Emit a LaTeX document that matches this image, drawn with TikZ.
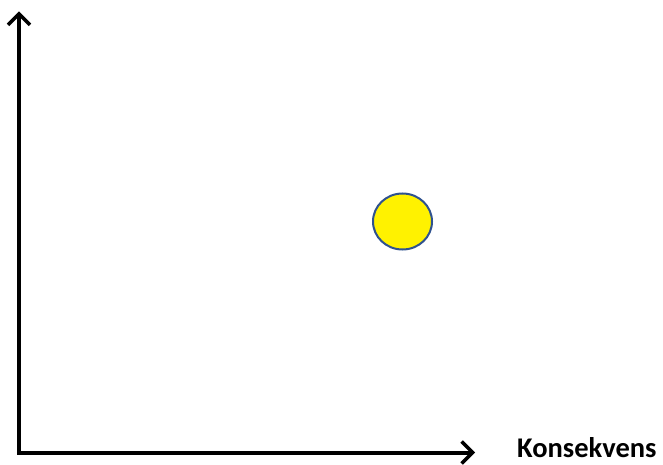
\documentclass[tikz,border=0pt]{standalone}
\usepackage{fontspec}
\setmainfont{Carlito}
\usepackage{tikz}
\usetikzlibrary{calc,arrows.meta,shapes.geometric}

\begin{document}
\begin{tikzpicture}[x=1pt,y=1pt]
\useasboundingbox (0,0) rectangle (663,464);
\coordinate (O) at (19,11.5);
  \coordinate (Y) at ($(O)+(0,441)$);
  \coordinate (X) at ($(O)+(456,0)$);
  \node[draw={rgb,255:red,47;green,82;blue,143},line width=2pt,fill=yellow,ellipse,minimum width=59pt,minimum height=56pt,inner sep=0pt] (P) at ($(O)+(383.5,231)$) {};
  \node[anchor=base west,inner sep=0pt,font=\fontsize{28.5}{32}\selectfont\bfseries] (K) at ($(O)+(498,-4.5)$) {Konsekvens};
  \path[-{Straight Barb[length=11pt,width=22pt,line width=3.5pt]},line width=4pt,line cap=rect] (O) edge (Y) (O) edge (X);
\end{tikzpicture}
\end{document}
